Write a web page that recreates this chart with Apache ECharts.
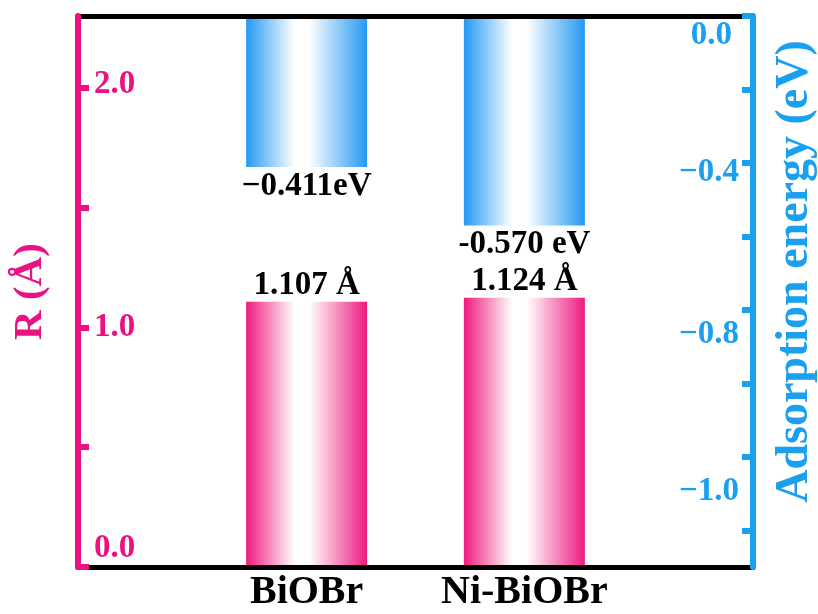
<!DOCTYPE html>
<html><head><meta charset="utf-8">
<script src="https://cdn.jsdelivr.net/npm/echarts@6/dist/echarts.min.js"></script>
<style>html,body{margin:0;padding:0;background:#fff}#c{width:818px;height:614px}</style>
</head><body><div id="c"></div>
<script>
// ---- data ----
const categories = ['BiOBr', 'Ni-BiOBr'];
const categoryPositions = [1, 2];
const bondLength = [1.107, 1.124];           // R (Å), left axis
const adsorptionEnergy = [-0.411, -0.570];   // eV, right axis
const bondLabels = ['1.107 \u00C5', '1.124 \u00C5'];
const energyLabels = ['\u22120.411eV', '-0.570 eV'];
const leftTickValues = [0, 0.5, 1, 1.5, 2];
const leftLabelValues = [0, 1, 2];
const leftTickLabels = ['0.0', '1.0', '2.0'];
const rightTickValues = [0, -0.2, -0.4, -0.6, -0.8, -1.0, -1.2, -1.4];
const rightLabelValues = [0, -0.4, -0.8, -1.2];
const rightTickLabels = ['0.0', '\u22120.4', '\u22120.8', '\u22121.0'];

// ---- styles ----
const FONT = "'Liberation Serif', 'Times New Roman', serif";
const PINK = '#EA1282';
const BLUE = '#1AA0EE';
const PINK_BAR = '#EE1A7E';
const BLUE_BAR = '#2499F2';
function grad(c) {
  return new echarts.graphic.LinearGradient(0, 0, 1, 0, [
    { offset: 0, color: c }, { offset: 0.4, color: '#ffffff' },
    { offset: 0.52, color: '#ffffff' }, { offset: 1, color: c }
  ]);
}
function idx(arr, v) { for (let i = 0; i < arr.length; i++) if (Math.abs(arr[i] - v) < 1e-6) return i; return -1; }

const chart = echarts.init(document.getElementById('c'), null, { renderer: 'canvas' });
const leftRich = {
  l0: { padding: [0, 0, 38, 0] },
  l1: { padding: [0, 0, 0, 0] },
  l2: { padding: [0, 0, 7, 0] }
};
const rightRich = {
  r0: { padding: [38, 7, 0, 0] },
  r1: { padding: [20, 0, 0, 0] },
  r2: { padding: [50, 0, 0, 0] },
  r3: { padding: [70, 0, 0, 0] }
};
Object.keys(leftRich).forEach(k => Object.assign(leftRich[k], { fontFamily: FONT, fontWeight: 'bold', fontSize: 33, color: PINK }));
Object.keys(rightRich).forEach(k => Object.assign(rightRich[k], { fontFamily: FONT, fontWeight: 'bold', fontSize: 33, color: BLUE }));

const option = {
  backgroundColor: '#ffffff',
  animation: false,
  grid: { left: 78, right: 65, top: 16, bottom: 47, containLabel: false, outerBoundsMode: 'none' },
  xAxis: [{
    type: 'value', min: -0.05, max: 3.05, position: 'bottom', z: 3,
    splitLine: { show: false },
    axisLine: { show: true, onZero: false, lineStyle: { color: '#000', width: 5 } },
    axisTick: { show: false },
    axisLabel: {
      customValues: categoryPositions,
      formatter: v => { const i = idx(categoryPositions, v); return i >= 0 ? categories[i] : ''; },
      fontFamily: FONT, fontWeight: 'bold', fontSize: 40, color: '#000', margin: 6
    }
  }, {
    type: 'value', min: -0.05, max: 3.05, position: 'top', z: 3,
    splitLine: { show: false },
    axisLine: { show: true, onZero: false, lineStyle: { color: '#000', width: 5 } },
    axisTick: { show: false }, axisLabel: { show: false }
  }],
  yAxis: [{
    type: 'value', min: 0, max: 2.3, position: 'left', z: 4,
    name: 'R (\u00C5)', nameLocation: 'middle', nameRotate: 90, nameGap: 27,
    nameTextStyle: { fontFamily: FONT, fontWeight: 'bold', fontSize: 41, color: PINK },
    splitLine: { show: false },
    axisLine: { show: true, onZero: false, lineStyle: { color: PINK, width: 6 } },
    axisTick: { show: true, inside: true, length: 11, customValues: leftTickValues, lineStyle: { color: PINK, width: 6 } },
    axisLabel: {
      inside: true, margin: 16, customValues: leftLabelValues,
      formatter: v => { const i = idx(leftLabelValues, v); return i >= 0 ? '{l' + i + '|' + leftTickLabels[i] + '}' : ''; },
      fontFamily: FONT, fontWeight: 'bold', fontSize: 33, color: PINK, rich: leftRich
    }
  }, {
    type: 'value', min: -1.5, max: 0, position: 'right', z: 4,
    name: 'Adsorption energy (eV)', nameLocation: 'middle', nameRotate: 90, nameGap: 19,
    nameTextStyle: { fontFamily: FONT, fontWeight: 'bold', fontSize: 46, color: BLUE, padding: [0, 0, 0, 40] },
    splitLine: { show: false },
    axisLine: { show: true, onZero: false, lineStyle: { color: BLUE, width: 6 } },
    axisTick: { show: true, inside: true, length: 11, customValues: rightTickValues, lineStyle: { color: BLUE, width: 6 } },
    axisLabel: {
      inside: true, margin: 14, customValues: rightLabelValues,
      formatter: v => { const i = idx(rightLabelValues, v); return i >= 0 ? '{r' + i + '|' + rightTickLabels[i] + '}' : ''; },
      fontFamily: FONT, fontWeight: 'bold', fontSize: 33, color: BLUE, rich: rightRich
    }
  }],
  series: [{
    type: 'bar', xAxisIndex: 0, yAxisIndex: 0, barWidth: 121, barGap: '-100%', z: 2,
    data: categoryPositions.map((x, i) => [x, bondLength[i]]),
    itemStyle: { color: grad(PINK_BAR) },
    label: {
      show: true, position: 'top', distance: 0,
      formatter: p => bondLabels[p.dataIndex],
      fontFamily: FONT, fontWeight: 'bold', fontSize: 33, color: '#000'
    }
  }, {
    type: 'bar', xAxisIndex: 0, yAxisIndex: 1, barWidth: 121, barGap: '-100%', z: 2,
    data: categoryPositions.map((x, i) => [x, adsorptionEnergy[i]]),
    itemStyle: { color: grad(BLUE_BAR) },
    label: {
      show: true, position: 'bottom', distance: 3,
      formatter: p => energyLabels[p.dataIndex],
      fontFamily: FONT, fontWeight: 'bold', fontSize: 33, color: '#000'
    }
  }]
};
chart.setOption(option);
</script>
</body></html>
